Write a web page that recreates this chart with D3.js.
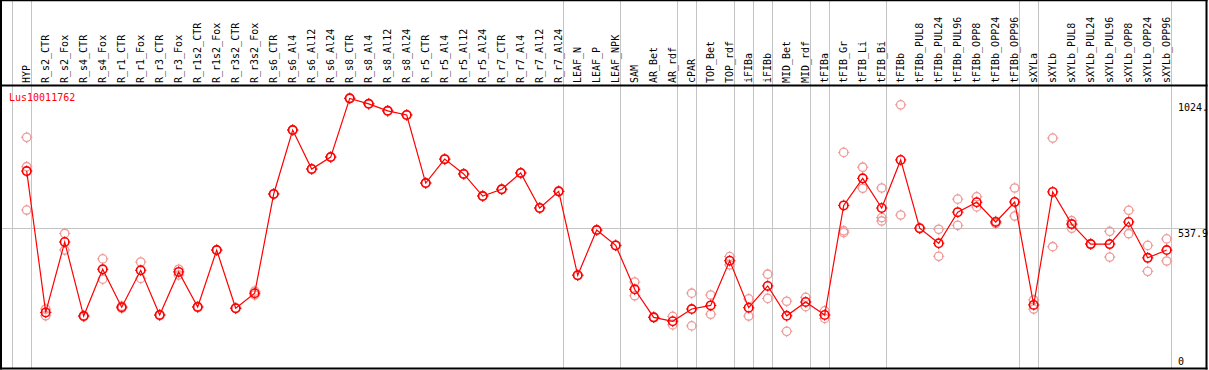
<!DOCTYPE html>
<html>
<head>
<meta charset="utf-8">
<script src="https://cdn.jsdelivr.net/npm/d3@7"></script>
<style>
  html, body { margin: 0; padding: 0; background: #fff; }
  svg { display: block; }
  text { font-family: "DejaVu Sans Mono", monospace; font-size: 10px; }
</style>
</head>
<body>
<div id="chart"></div>
<script>
// Data
const geneName = 'Lus10011762';

const categories = [
  'HYP', 'R_s2_CTR', 'R_s2_Fox', 'R_s4_CTR', 'R_s4_Fox', 'R_r1_CTR', 'R_r1_Fox',
  'R_r3_CTR', 'R_r3_Fox', 'R_r1s2_CTR', 'R_r1s2_Fox', 'R_r3s2_CTR', 'R_r3s2_Fox',
  'R_s6_CTR', 'R_s6_Al4', 'R_s6_Al12', 'R_s6_Al24', 'R_s8_CTR', 'R_s8_Al4', 'R_s8_Al12',
  'R_s8_Al24', 'R_r5_CTR', 'R_r5_Al4', 'R_r5_Al12', 'R_r5_Al24', 'R_r7_CTR', 'R_r7_Al4',
  'R_r7_Al12', 'R_r7_Al24', 'LEAF_N', 'LEAF_P', 'LEAF_NPK', 'SAM', 'AR_Bet', 'AR_rdf',
  'cPAR', 'TOP_Bet', 'TOP_rdf', 'iFIBa', 'iFIBb', 'MID_Bet', 'MID_rdf', 'tFIBa',
  'tFIB_Gr', 'tFIB_Li', 'tFIB_Bi', 'tFIBb', 'tFIBb_PUL8', 'tFIBb_PUL24', 'tFIBb_PUL96',
  'tFIBb_OPP8', 'tFIBb_OPP24', 'tFIBb_OPP96', 'sXYLa', 'sXYLb', 'sXYLb_PUL8',
  'sXYLb_PUL24', 'sXYLb_PUL96', 'sXYLb_OPP8', 'sXYLb_OPP24', 'sXYLb_OPP96'
];

const meanValues = [
  758, 214, 485, 200, 380, 234, 376, 204, 370, 235, 454, 230, 288,
  670, 916, 766, 812, 1038, 1017, 990, 974, 712, 804, 747, 662, 688, 751, 616, 680,
  357, 531, 472, 303, 195, 180, 227, 241, 413, 232, 316, 201, 254, 204,
  626, 730, 616, 801, 538, 480, 600, 638, 562, 639,
  243, 678, 554, 477, 477, 562, 424, 454
];

const replicateValues = [
  [888, 775, 608], [227, 201], [518, 454], [202, 198], [420, 342], [238, 230], [408, 345],
  [206, 202], [380, 358], [237, 233], [455, 453], [231, 229], [296, 281],
  [671, 669], [917, 915], [767, 765], [813, 811], [1039, 1037], [1018, 1016], [991, 989],
  [975, 973], [713, 711], [805, 803], [748, 746], [663, 661], [689, 687], [752, 750],
  [617, 615], [681, 679], [358, 356], [532, 530], [473, 471], [331, 278], [196, 194], [199, 166],
  [288, 162], [281, 207], [429, 397], [266, 200], [361, 268], [257, 141], [272, 236], [220, 191],
  [830, 528, 521], [773, 692], [693, 579, 566], [1013, 589], [539, 537], [534, 430], [650, 549],
  [659, 620], [565, 556], [693, 585], [262, 227], [885, 467], [567, 538],
  [478, 477], [526, 427], [607, 517], [472, 372], [497, 412]
];

// group separators are drawn after these columns
const separatorsAfter = [
  'HYP', 'R_r7_Al24', 'LEAF_NPK', 'AR_rdf', 'cPAR', 'TOP_rdf', 'iFIBa', 'iFIBb',
  'MID_rdf', 'tFIBa', 'tFIB_Bi', 'tFIBb_OPP96', 'sXYLa', 'sXYLb_OPP96'
];

const yTicks = [1024, 537.9, 0];
const yTickLabels = ['1024.', '537.9', '0'];
const midLine = 537.9;

// Layout
const W = 1209, H = 370;
const HEAD = 85.5, BOTTOM = 368.5, RIGHT = 1206.5;

const svg = d3.select('#chart').append('svg')
  .attr('width', W).attr('height', H);

const x = d3.scalePoint().domain(categories).range([26.7, 1166.7]);
const y = d3.scaleLinear().domain([0, 1024]).range([368, 102]);
const step = x.step();

// Grid: vertical group separators
const sepX = [x(categories[0]) - step + 3.8].concat(separatorsAfter.map(c => x(c) + 3.8));
svg.append('g').selectAll('line')
  .data(sepX).join('line')
  .attr('x1', d => Math.round(d) + 0.5).attr('x2', d => Math.round(d) + 0.5)
  .attr('y1', 0).attr('y2', BOTTOM)
  .attr('stroke', '#c4c4c4').attr('stroke-width', 1);

// horizontal reference line
svg.append('line')
  .attr('x1', 0).attr('x2', RIGHT)
  .attr('y1', Math.round(y(midLine)) + 0.5).attr('y2', Math.round(y(midLine)) + 0.5)
  .attr('stroke', '#c4c4c4').attr('stroke-width', 1);

// Frame
const frame = svg.append('g').attr('stroke', '#000').attr('stroke-width', 2);
frame.append('line').attr('x1', 0).attr('x2', RIGHT + 1).attr('y1', 0.5).attr('y2', 0.5).attr('stroke-width', 1.5);
frame.append('line').attr('x1', 0).attr('x2', RIGHT + 1).attr('y1', HEAD).attr('y2', HEAD);
frame.append('line').attr('x1', 0).attr('x2', RIGHT + 1).attr('y1', BOTTOM).attr('y2', BOTTOM);
frame.append('line').attr('x1', 1).attr('x2', 1).attr('y1', 0).attr('y2', BOTTOM + 1);
frame.append('line').attr('x1', RIGHT).attr('x2', RIGHT).attr('y1', 0).attr('y2', BOTTOM + 1);

// Column labels
svg.append('g').selectAll('text')
  .data(categories).join('text')
  .attr('transform', d => `translate(${x(d) + 3},83) rotate(-90)`)
  .attr('fill', '#000')
  .text(d => d);

// Y labels on the right
svg.append('g').selectAll('text')
  .data(yTicks).join('text')
  .attr('x', 1178)
  .attr('y', d => Math.min(y(d) + 9, 365))
  .attr('fill', '#000')
  .text((d, i) => yTickLabels[i]);

// Gene label
svg.append('text')
  .attr('x', 9).attr('y', 101)
  .attr('fill', '#f00')
  .text(geneName);

// marker: circle with small ticks
function drawMarker(g, cx, cy, color, sw) {
  const r = 4.2;
  g.append('circle').attr('cx', cx).attr('cy', cy).attr('r', r)
    .attr('fill', 'none').attr('stroke', color).attr('stroke-width', sw);
  const t = [[0, -1], [0, 1], [-1, 0], [1, 0]];
  t.forEach(([dx, dy]) => {
    g.append('line')
      .attr('x1', cx + dx * (r - 0.5)).attr('y1', cy + dy * (r - 0.5))
      .attr('x2', cx + dx * (r + 1.5)).attr('y2', cy + dy * (r + 1.5))
      .attr('stroke', color).attr('stroke-width', 1);
  });
}

// Replicates
const gRep = svg.append('g');
categories.forEach((c, i) => {
  replicateValues[i].forEach(v => drawMarker(gRep, x(c), y(v), '#ee9a9a', 1.3));
});

// Mean line
const line = d3.line().x((d, i) => x(categories[i])).y(d => y(d));
svg.append('path')
  .attr('d', line(meanValues))
  .attr('fill', 'none').attr('stroke', '#f00').attr('stroke-width', 1.2);

// Mean markers
const gMean = svg.append('g');
meanValues.forEach((v, i) => drawMarker(gMean, x(categories[i]), y(v), '#f00', 1.6));
</script>
</body>
</html>
